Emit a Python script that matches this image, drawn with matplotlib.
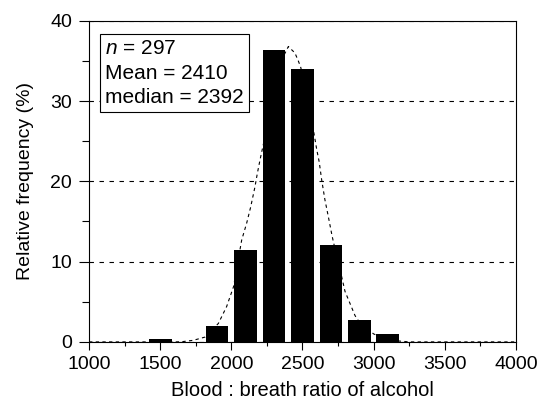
import matplotlib
matplotlib.use("Agg")
import matplotlib.pyplot as plt
from matplotlib.ticker import MultipleLocator

plt.rcParams['font.family'] = ['Liberation Sans', 'DejaVu Sans']
plt.rcParams['mathtext.fontset'] = 'custom'
plt.rcParams['mathtext.it'] = 'Liberation Sans:italic'
plt.rcParams['mathtext.rm'] = 'Liberation Sans'

# histogram bins (centre of bin) and relative frequency (%)
bin_centres = [1500, 1900, 2100, 2300, 2500, 2700, 2900, 3100]
rel_freq = [0.34, 2.02, 11.45, 36.36, 34.0, 12.12, 2.69, 1.01]

# fitted curve
curve_x = [1000, 1600, 1650, 1733, 1815, 1909, 1967, 2016, 2061, 2073, 2108, 2136,
           2166, 2183, 2202, 2230, 2300, 2350, 2401, 2412, 2447, 2471, 2488, 2530,
           2576, 2600, 2618, 2635, 2658, 2682, 2705, 2717, 2776, 2799, 2834, 2869,
           2886, 2950, 3000, 3060, 3150, 3250, 4000]
curve_y = [0, 0, 0.02, 0.2, 0.6, 2.3, 4.4, 6.9, 11.5, 12.7, 14.8, 16.8,
           19.3, 21.0, 22.7, 25.0, 31.5, 35.0, 36.8, 36.6, 36.0, 35.0, 34.2, 31.0,
           26.5, 24.0, 22.4, 20.2, 17.7, 15.6, 13.5, 12.5, 8.1, 6.3, 4.8, 3.3,
           2.8, 1.7, 1.0, 0.5, 0.15, 0, 0]

stats_text = "$n$ = 297\nMean = 2410\nmedian = 2392"

fig = plt.figure(figsize=(5.43, 4.08), dpi=100)
ax = fig.add_axes([0.164, 0.162, 0.786, 0.787])

ax.yaxis.grid(True, linestyle=(0, (4, 5)), color='black', linewidth=0.8, zorder=0)
ax.set_axisbelow(True)

ax.plot(curve_x, curve_y, color='black', linestyle=(0, (3, 3)), linewidth=0.8, zorder=2)
ax.bar(bin_centres, rel_freq, width=160, color='black', zorder=3)

ax.set_xlim(1000, 4000)
ax.set_ylim(0, 40)
ax.xaxis.set_major_locator(MultipleLocator(500))
ax.xaxis.set_minor_locator(MultipleLocator(250))
ax.yaxis.set_major_locator(MultipleLocator(10))
ax.yaxis.set_minor_locator(MultipleLocator(5))
ax.tick_params(which='both', width=0.8, labelsize=14, color='black')
ax.tick_params(axis='x', which='major', length=5.6, pad=4.3)
ax.tick_params(axis='x', which='minor', length=3.2)
ax.tick_params(axis='y', which='major', length=7.2, pad=5)
ax.tick_params(axis='y', which='minor', length=5)
for s in ax.spines.values():
    s.set_linewidth(0.8)

ax.set_xlabel("Blood : breath ratio of alcohol", fontsize=14.5, labelpad=6)
ax.set_ylabel("Relative frequency (%)", fontsize=14, labelpad=12)

ax.text(0.0375, 0.942, stats_text, transform=ax.transAxes, fontsize=15,
        va='top', ha='left', linespacing=1.35,
        bbox=dict(boxstyle='square,pad=0.25', facecolor='white', edgecolor='black', linewidth=0.8),
        zorder=5)

fig.savefig("out.png", dpi=100)
